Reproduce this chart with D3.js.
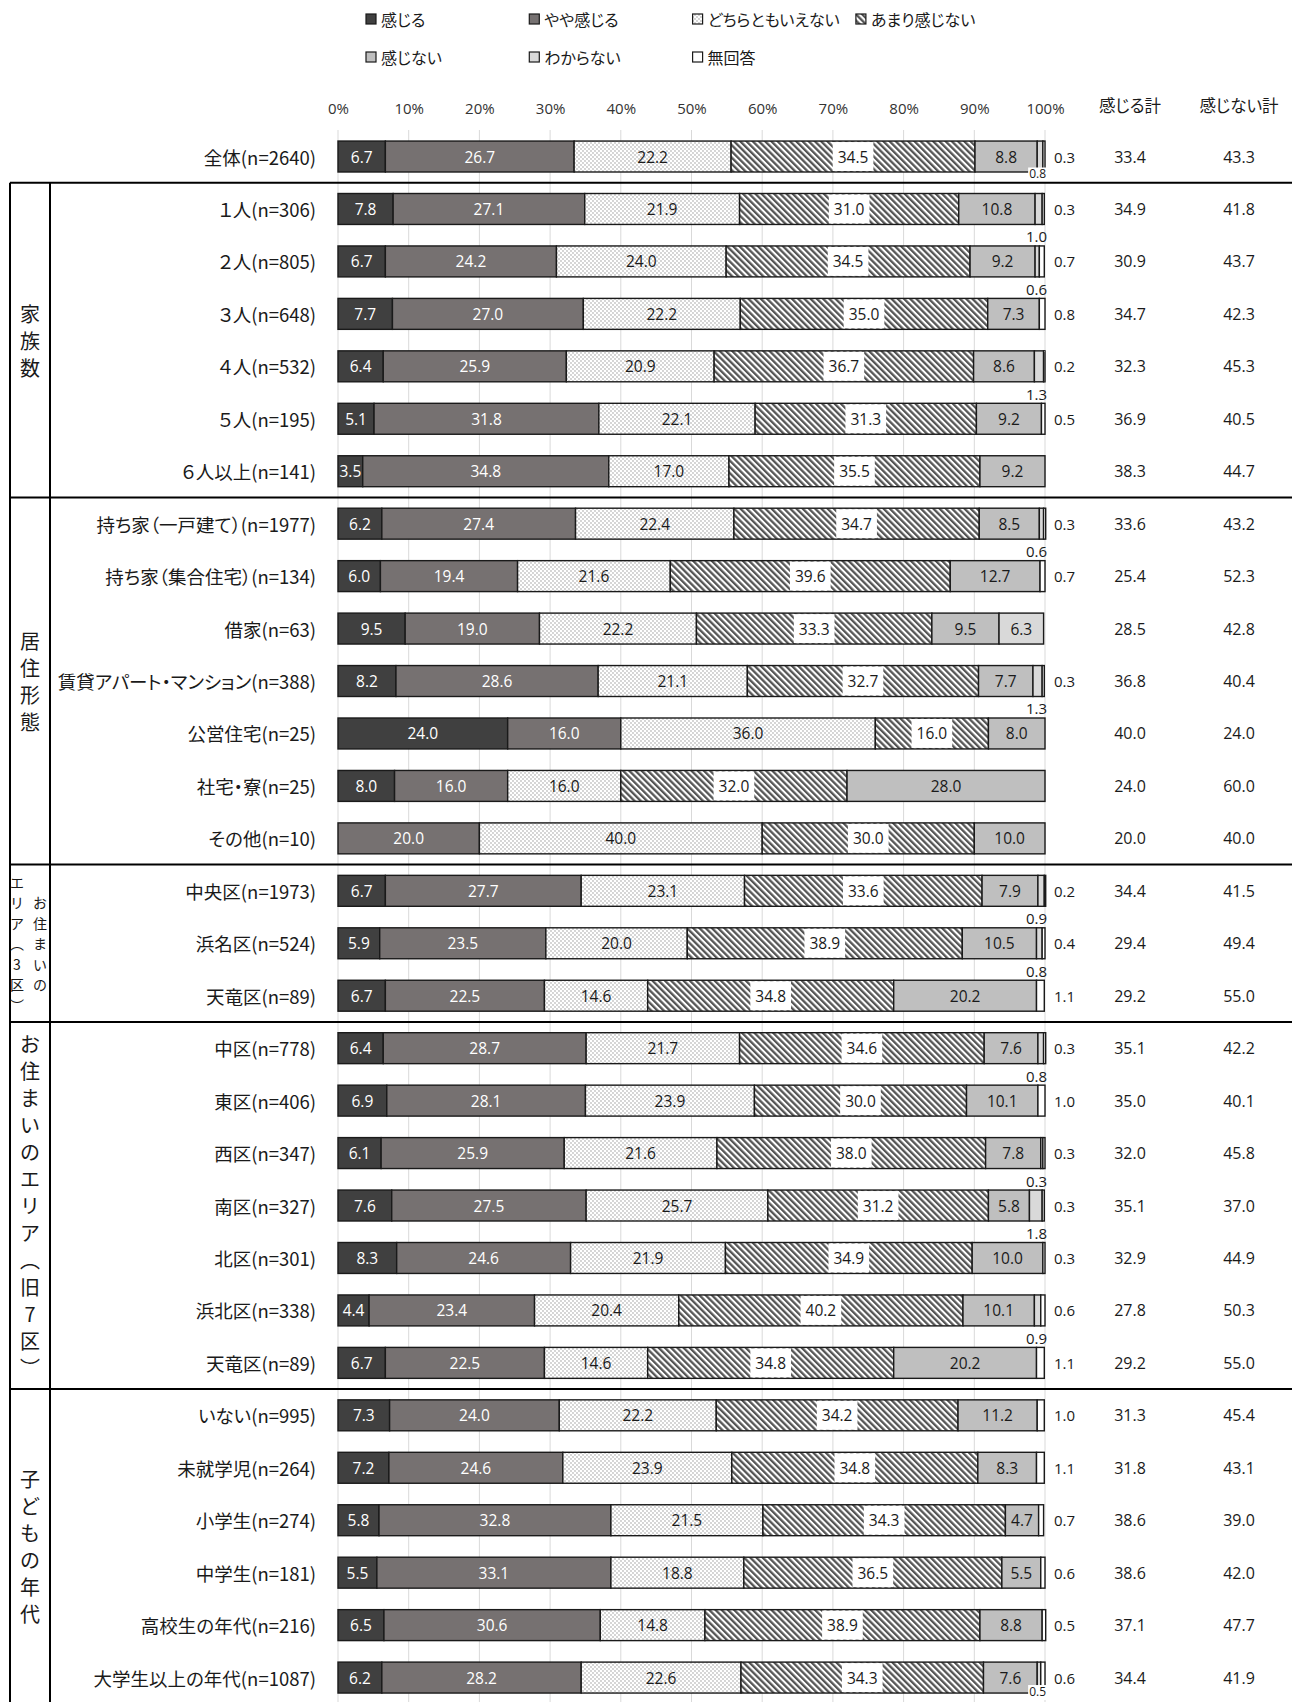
<!DOCTYPE html>
<html lang="ja">
<head>
<meta charset="utf-8">
<title>感じる度合い</title>
<script src="https://d3js.org/d3.v7.min.js"></script>
<style>
  body { margin: 0; background: #fff; }
  svg text { font-family: "Noto Sans CJK JP", sans-serif; fill: #1a1a1a; }
  svg text.num { font-family: "Open Sans", sans-serif; }
  svg text.jp { font-feature-settings: "palt"; }
</style>
</head>
<body>
<script>
// ---- data ----
var rowLabels = ["全体(n=2640)", "１人(n=306)", "２人(n=805)", "３人(n=648)", "４人(n=532)", "５人(n=195)", "６人以上(n=141)",
  "持ち家（一戸建て）(n=1977)", "持ち家（集合住宅）(n=134)", "借家(n=63)", "賃貸アパート・マンション(n=388)", "公営住宅(n=25)", "社宅・寮(n=25)", "その他(n=10)",
  "中央区(n=1973)", "浜名区(n=524)", "天竜区(n=89)",
  "中区(n=778)", "東区(n=406)", "西区(n=347)", "南区(n=327)", "北区(n=301)", "浜北区(n=338)", "天竜区(n=89)",
  "いない(n=995)", "未就学児(n=264)", "小学生(n=274)", "中学生(n=181)", "高校生の年代(n=216)", "大学生以上の年代(n=1087)"];

var kanjiru   = [6.7, 7.8, 6.7, 7.7, 6.4, 5.1, 3.5, 6.2, 6.0, 9.5, 8.2, 24.0, 8.0, 0, 6.7, 5.9, 6.7, 6.4, 6.9, 6.1, 7.6, 8.3, 4.4, 6.7, 7.3, 7.2, 5.8, 5.5, 6.5, 6.2];
var yaya      = [26.7, 27.1, 24.2, 27.0, 25.9, 31.8, 34.8, 27.4, 19.4, 19.0, 28.6, 16.0, 16.0, 20.0, 27.7, 23.5, 22.5, 28.7, 28.1, 25.9, 27.5, 24.6, 23.4, 22.5, 24.0, 24.6, 32.8, 33.1, 30.6, 28.2];
var dochira   = [22.2, 21.9, 24.0, 22.2, 20.9, 22.1, 17.0, 22.4, 21.6, 22.2, 21.1, 36.0, 16.0, 40.0, 23.1, 20.0, 14.6, 21.7, 23.9, 21.6, 25.7, 21.9, 20.4, 14.6, 22.2, 23.9, 21.5, 18.8, 14.8, 22.6];
var amari     = [34.5, 31.0, 34.5, 35.0, 36.7, 31.3, 35.5, 34.7, 39.6, 33.3, 32.7, 16.0, 32.0, 30.0, 33.6, 38.9, 34.8, 34.6, 30.0, 38.0, 31.2, 34.9, 40.2, 34.8, 34.2, 34.8, 34.3, 36.5, 38.9, 34.3];
var kanjinai  = [8.8, 10.8, 9.2, 7.3, 8.6, 9.2, 9.2, 8.5, 12.7, 9.5, 7.7, 8.0, 28.0, 10.0, 7.9, 10.5, 20.2, 7.6, 10.1, 7.8, 5.8, 10.0, 10.1, 20.2, 11.2, 8.3, 4.7, 5.5, 8.8, 7.6];
var wakaranai = [0.8, 1.0, 0.6, 0, 1.3, 0, 0, 0.6, 0, 6.3, 1.3, 0, 0, 0, 0.9, 0.8, 0, 0.8, 0, 0.3, 1.8, 0, 0.9, 0, 0, 0, 0, 0, 0, 0.5];
var mukaitou  = [0.3, 0.3, 0.7, 0.8, 0.2, 0.5, 0, 0.3, 0.7, 0, 0.3, 0, 0, 0, 0.2, 0.4, 1.1, 0.3, 1.0, 0.3, 0.3, 0.3, 0.6, 1.1, 1.0, 1.1, 0.7, 0.6, 0.5, 0.6];
var kanjiruKei  = [33.4, 34.9, 30.9, 34.7, 32.3, 36.9, 38.3, 33.6, 25.4, 28.5, 36.8, 40.0, 24.0, 20.0, 34.4, 29.4, 29.2, 35.1, 35.0, 32.0, 35.1, 32.9, 27.8, 29.2, 31.3, 31.8, 38.6, 38.6, 37.1, 34.4];
var kanjinaiKei = [43.3, 41.8, 43.7, 42.3, 45.3, 40.5, 44.7, 43.2, 52.3, 42.8, 40.4, 24.0, 60.0, 40.0, 41.5, 49.4, 55.0, 42.2, 40.1, 45.8, 37.0, 44.9, 50.3, 55.0, 45.4, 43.1, 39.0, 42.0, 47.7, 41.9];

var seriesNames = ["感じる", "やや感じる", "どちらともいえない", "あまり感じない", "感じない", "わからない", "無回答"];
var tickValues = [0, 10, 20, 30, 40, 50, 60, 70, 80, 90, 100];

var groupNames = ["家族数", "居住形態", "お住まいのエリア（3区）", "お住まいのエリア（旧7区）", "子どもの年代"];
var groupStart = [1, 7, 14, 17, 24];
var groupEnd   = [6, 13, 16, 23, 29];

// ---- layout ----
var W = 1302, H = 1702;
var fills = ["#404040", "#767171", "url(#dots)", "url(#hatch)", "#bfbfbf", "#d9d9d9", "#ffffff"];
var textCol = ["#fff", "#fff", "#1a1a1a", "#1a1a1a", "#1a1a1a", "#1a1a1a", "#1a1a1a"];

var svg = d3.select("body").append("svg")
  .attr("width", W).attr("height", H);

var defs = svg.append("defs");
var dots = defs.append("pattern").attr("id", "dots")
  .attr("patternUnits", "userSpaceOnUse").attr("width", 4).attr("height", 4);
dots.append("rect").attr("width", 4).attr("height", 4).attr("fill", "#fff");
dots.append("circle").attr("cx", 1).attr("cy", 1).attr("r", 0.65).attr("fill", "#8a8a8a");
dots.append("circle").attr("cx", 3).attr("cy", 3).attr("r", 0.65).attr("fill", "#8a8a8a");

var hatch = defs.append("pattern").attr("id", "hatch")
  .attr("patternUnits", "userSpaceOnUse").attr("width", 4.4).attr("height", 4.4)
  .attr("patternTransform", "rotate(-45)");
hatch.append("rect").attr("width", 4.4).attr("height", 4.4).attr("fill", "#fff");
hatch.append("rect").attr("width", 2.3).attr("height", 4.4).attr("fill", "#555");

var x = d3.scaleLinear().domain([0, 100]).range([338, 1045]);
var y = d3.scaleBand().domain(d3.range(rowLabels.length))
  .range([130.3, 1703.8]).paddingInner(0.41).paddingOuter(0.205);
var step = y.step();
var lastRow = rowLabels.length - 1;
function cy(i) { return y(i) + y.bandwidth() / 2; }

var data = rowLabels.map(function (d, i) {
  return { i: i, label: d, s0: kanjiru[i], s1: yaya[i], s2: dochira[i], s3: amari[i], s4: kanjinai[i], s5: wakaranai[i], s6: mukaitou[i] };
});
var keys = ["s0", "s1", "s2", "s3", "s4", "s5", "s6"];
var stacked = d3.stack().keys(keys)(data);

// gridlines
svg.append("g").selectAll("line").data(tickValues).enter().append("line")
  .attr("x1", function (d) { return x(d); }).attr("x2", function (d) { return x(d); })
  .attr("y1", 130).attr("y2", H)
  .attr("stroke", "#d9d9d9").attr("stroke-width", 1);

// axis labels (top)
var axis = d3.axisTop(x).tickValues(tickValues).tickSize(0).tickFormat(function (d) { return d + "%"; });
var ax = svg.append("g").attr("transform", "translate(0,117)").call(axis);
ax.select(".domain").remove();
ax.selectAll("text").attr("class", "num").attr("font-size", "15px").style("fill", "#333");

// legend
var legend = svg.append("g");
seriesNames.forEach(function (name, k) {
  var col = k < 4 ? k : k - 4, row = k < 4 ? 0 : 1;
  var lx = 371 + col * 163.3, ly = 19 + row * 38;
  legend.append("rect").attr("x", lx - 5).attr("y", ly - 5).attr("width", 10).attr("height", 10)
    .attr("fill", fills[k]).attr("stroke", "#1a1a1a").attr("stroke-width", 1.2);
  legend.append("text").attr("class", "jp").attr("x", lx + 10).attr("y", ly).attr("dominant-baseline", "central")
    .attr("font-size", "16px").text(name);
});

// headers
svg.append("text").attr("class", "jp").attr("x", 1130).attr("y", 105).attr("text-anchor", "middle")
  .attr("dominant-baseline", "central").attr("font-size", "16.5px").text("感じる計");
svg.append("text").attr("class", "jp").attr("x", 1239).attr("y", 105).attr("text-anchor", "middle")
  .attr("dominant-baseline", "central").attr("font-size", "16.5px").text("感じない計");

// bars
var layers = svg.append("g").selectAll("g").data(stacked).enter().append("g")
  .attr("fill", function (d, k) { return fills[k]; });
layers.selectAll("rect").data(function (d) { return d; }).enter()
  .filter(function (d) { return d[1] - d[0] > 0; })
  .append("rect")
  .attr("x", function (d) { return x(d[0]); })
  .attr("y", function (d) { return y(d.data.i); })
  .attr("width", function (d) { return x(d[1]) - x(d[0]); })
  .attr("height", y.bandwidth())
  .attr("stroke", "#1a1a1a").attr("stroke-width", 1.4);

// segment labels
var labels = svg.append("g");
stacked.forEach(function (layer, k) {
  layer.forEach(function (d) {
    var v = d[1] - d[0];
    var i = d.data.i;
    if (v <= 0) return;
    var txt = v.toFixed(1);
    if (k == 6) {
      labels.append("text").attr("class", "num").attr("x", x(100) + 9).attr("y", cy(i))
        .attr("dominant-baseline", "central").attr("font-size", "15px").text(txt);
      return;
    }
    if (k == 5 && v < 3) {
      if (i == 0 || i == lastRow) {
        // tight spot: small label tucked just under the bar end
        var off = i == 0 ? 2 : -1.5;
        var g0 = labels.append("g");
        var t0 = g0.append("text").attr("class", "num").attr("x", x(100) + 1).attr("y", y(i) + y.bandwidth() + off)
          .attr("text-anchor", "end").attr("dominant-baseline", "central").attr("font-size", "12px").text(txt);
        var bb0 = t0.node().getBBox();
        g0.insert("rect", "text").attr("x", bb0.x - 1).attr("y", bb0.y + 2).attr("width", bb0.width + 2)
          .attr("height", bb0.height - 2).attr("fill", "#fff");
      } else {
        labels.append("text").attr("class", "num").attr("x", x(100) + 2).attr("y", y(i) + y.bandwidth() + 12)
          .attr("text-anchor", "end").attr("dominant-baseline", "central").attr("font-size", "15px").text(txt);
      }
      return;
    }
    if (v < 3) return;
    var mx = (x(d[0]) + x(d[1])) / 2;
    var g = labels.append("g");
    var t = g.append("text").attr("class", "num").attr("x", mx).attr("y", cy(i))
      .attr("text-anchor", "middle").attr("dominant-baseline", "central")
      .attr("font-size", "15.5px").style("fill", textCol[k]).text(txt);
    if (k == 3) {
      var w = t.node().getComputedTextLength() + 10;
      g.insert("rect", "text").attr("x", mx - w / 2).attr("y", y(i) + 1)
        .attr("width", w).attr("height", y.bandwidth() - 2).attr("fill", "#fff");
    }
  });
});

// sums
svg.append("g").selectAll("text").data(kanjiruKei).enter().append("text")
  .attr("class", "num").attr("x", 1130).attr("y", function (d, i) { return cy(i); })
  .attr("text-anchor", "middle").attr("dominant-baseline", "central").attr("font-size", "16px")
  .text(function (d) { return d.toFixed(1); });
svg.append("g").selectAll("text").data(kanjinaiKei).enter().append("text")
  .attr("class", "num").attr("x", 1239).attr("y", function (d, i) { return cy(i); })
  .attr("text-anchor", "middle").attr("dominant-baseline", "central").attr("font-size", "16px")
  .text(function (d) { return d.toFixed(1); });

// row labels
svg.append("g").selectAll("text").data(rowLabels).enter().append("text")
  .attr("class", "jp")
  .attr("x", 316).attr("y", function (d, i) { return cy(i); })
  .attr("text-anchor", "end").attr("dominant-baseline", "central").attr("font-size", "18.5px")
  .text(function (d) { return d; });

// frame lines
var frame = svg.append("g").attr("stroke", "#000").attr("stroke-width", 2);
groupStart.forEach(function (s) {
  var ly = y(s) - (step - y.bandwidth()) / 2;
  frame.append("line").attr("x1", 10).attr("x2", 1292).attr("y1", ly).attr("y2", ly);
});
var topY = y(groupStart[0]) - (step - y.bandwidth()) / 2;
frame.append("line").attr("x1", 10).attr("x2", 10).attr("y1", topY).attr("y2", H);
frame.append("line").attr("x1", 50).attr("x2", 50).attr("y1", topY).attr("y2", H);

// group labels (vertical)
function vertical(chars, cx, cyMid, size, gap) {
  var n = chars.length;
  chars.forEach(function (c, j) {
    svg.append("text").attr("x", cx).attr("y", cyMid + (j - (n - 1) / 2) * gap)
      .attr("text-anchor", "middle").attr("dominant-baseline", "central")
      .attr("font-size", size + "px").text(c);
  });
}
function toVert(s) { return Array.from(s.replace("（", "︵").replace("）", "︶")); }
groupNames.forEach(function (name, g) {
  var mid = (cy(groupStart[g]) + cy(groupEnd[g])) / 2;
  if (groupEnd[g] - groupStart[g] < 3) {
    var chars = toVert(name);
    vertical(chars.slice(0, 5), 40, mid, 14, 20.5);
    vertical(chars.slice(5), 17, mid, 14, 20.5);
  } else {
    vertical(toVert(name), 30, mid, 20, 27);
  }
});
</script>
</body>
</html>
